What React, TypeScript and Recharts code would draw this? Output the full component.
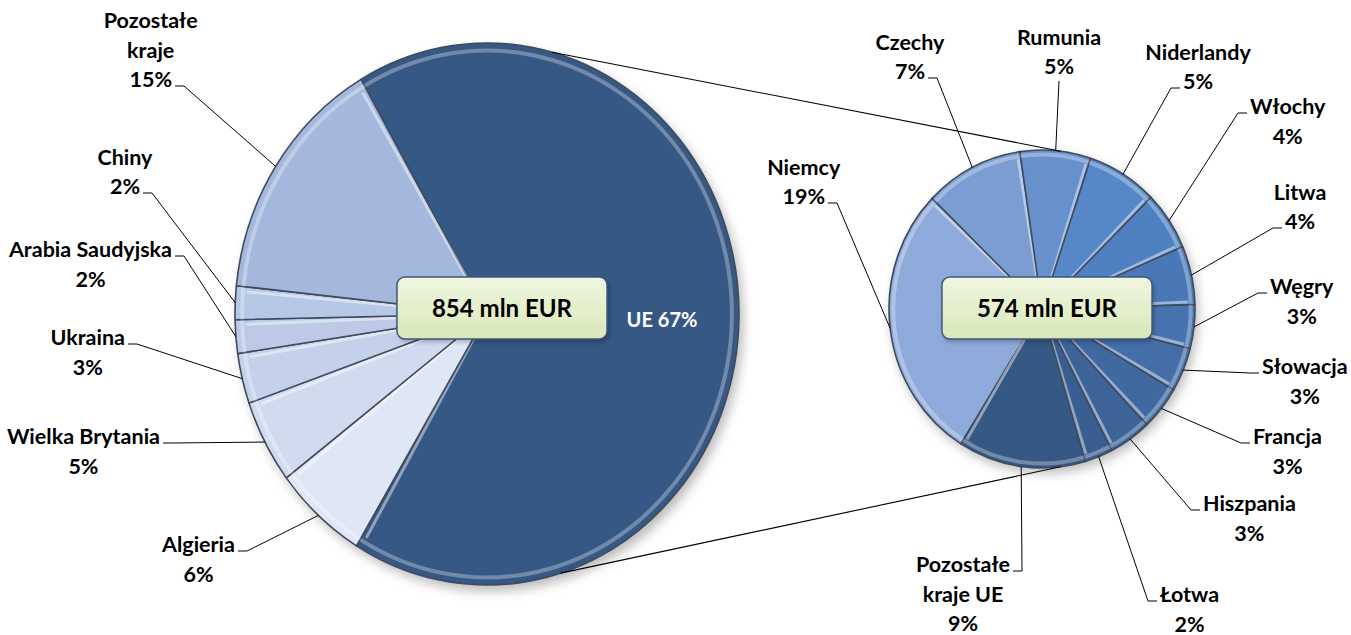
import React from "react";
import { PieChart, Pie, Cell } from "recharts";

// udział w eksporcie (% całości, 854 mln EUR)
const WORLD_NAMES = ["UE", "Algieria", "Wielka Brytania", "Ukraina", "Arabia Saudyjska", "Chiny", "Pozostałe kraje"];
const WORLD_SHARES = [67, 6, 5, 3, 2, 2, 15];
const WORLD_COLORS = ["#365884", "#dfe6f5", "#d0dbf0", "#c4d1eb", "#bccae7", "#b7c7e6", "#a4b8dd"];

// rozbicie UE (574 mln EUR), te same procenty całości
const EU_NAMES = [
  "Niemcy", "Czechy", "Rumunia", "Niderlandy", "Włochy", "Litwa",
  "Węgry", "Słowacja", "Francja", "Hiszpania", "Łotwa", "Pozostałe kraje UE",
];
const EU_SHARES = [19, 7, 5, 5, 4, 4, 3, 3, 3, 3, 2, 9];
const EU_COLORS = [
  "#8eaadb", "#7b9dd2", "#6790cc", "#5687c8", "#4f80c1", "#4a78b7",
  "#4773b0", "#446ea8", "#4069a1", "#3d6499", "#3a5e91", "#365884",
];

const TOTAL_LABELS = ["854 mln EUR", "574 mln EUR"];

const worldData = WORLD_NAMES.map((name, i) => ({ name, share: WORLD_SHARES[i] }));
const euData = EU_NAMES.map((name, i) => ({ name, share: EU_SHARES[i] }));

const W = 1351;
const H = 635;
const FONT = "Lato, 'Open Sans', sans-serif";
const LABEL_SIZE = 21.5;
const LINE_H = 29.5;
const RAD = Math.PI / 180;

// pies are slightly taller than wide in the original
const LEFT = { cx: 487, cy: 314, rx: 252, ry: 271, start: 120, box: { dx: 15, dy: -6 } };
const RIGHT = { cx: 1042, cy: 309, rx: 153, ry: 159, start: 238, box: { dx: 5, dy: -1 } };

type Spot = { dx: number; dy: number; side: "in" | "left" | "right" | "top"; tick: number };

// where each label sits, relative to the pie centre (tick = line that carries the leader)
const WORLD_SPOTS: Spot[] = [
  { dx: 175, dy: 6, side: "in", tick: 0 },
  { dx: -252, dy: 231, side: "left", tick: 0 },
  { dx: -327, dy: 123, side: "left", tick: 0 },
  { dx: -362, dy: 24, side: "left", tick: 0 },
  { dx: -315, dy: -64, side: "left", tick: 0 },
  { dx: -347, dy: -127, side: "left", tick: 1 },
  { dx: -315, dy: -234, side: "left", tick: 2 },
];

const EU_SPOTS: Spot[] = [
  { dx: -217, dy: -112, side: "left", tick: 1 },
  { dx: -117, dy: -237, side: "left", tick: 1 },
  { dx: 17, dy: -242, side: "top", tick: 1 },
  { dx: 141, dy: -227, side: "right", tick: 1 },
  { dx: 208, dy: -202, side: "right", tick: 0 },
  { dx: 243, dy: -87, side: "right", tick: 1 },
  { dx: 228, dy: -22, side: "right", tick: 0 },
  { dx: 220, dy: 58, side: "right", tick: 0 },
  { dx: 211, dy: 128, side: "right", tick: 0 },
  { dx: 161, dy: 195, side: "right", tick: 0 },
  { dx: 118, dy: 286, side: "right", tick: 0 },
  { dx: -32, dy: 256, side: "left", tick: 0 },
];

let measureCtx: CanvasRenderingContext2D | null = null;
function textWidth(s: string, size: number) {
  if (!measureCtx) measureCtx = document.createElement("canvas").getContext("2d");
  if (!measureCtx) return s.length * size * 0.5;
  measureCtx.font = `bold ${size}px Lato`;
  return measureCtx.measureText(s).width;
}

function splitName(name: string) {
  if (name.startsWith("Pozostałe ")) return ["Pozostałe", name.slice(10)];
  return [name];
}

function ovalPoint(cx: number, cy: number, rx: number, ry: number, angle: number) {
  return [cx + rx * Math.cos(angle * RAD), cy - ry * Math.sin(angle * RAD)];
}

function ovalSector(squash: number) {
  return (props: any) => {
    const { cx, cy, outerRadius, startAngle, endAngle, fill } = props;
    const rx = outerRadius;
    const ry = outerRadius * squash;
    const d = endAngle - startAngle;
    const large = Math.abs(d) > 180 ? 1 : 0;
    const sweep = d < 0 ? 1 : 0;
    const [x0, y0] = ovalPoint(cx, cy, rx, ry, startAngle);
    const [x1, y1] = ovalPoint(cx, cy, rx, ry, endAngle);
    const k = 0.972;
    const [h0x, h0y] = ovalPoint(cx, cy, rx * k, ry * k, startAngle);
    const [h1x, h1y] = ovalPoint(cx, cy, rx * k, ry * k, endAngle);
    // bevel highlight just inside the closing edge
    const inside = d < 0 ? 1.1 : -1.1;
    const [bx, by] = ovalPoint(cx, cy, rx * 0.955, ry * 0.955, endAngle + inside);
    return (
      <g>
        <path
          d={`M${cx},${cy} L${x0},${y0} A${rx},${ry} 0 ${large} ${sweep} ${x1},${y1} Z`}
          fill={fill}
          stroke="#3f4b5c"
          strokeWidth={1.6}
          strokeLinejoin="round"
        />
        <path
          d={`M${h0x},${h0y} A${rx * k},${ry * k} 0 ${large} ${sweep} ${h1x},${h1y}`}
          fill="none"
          stroke="#ffffff"
          strokeOpacity={0.3}
          strokeWidth={4}
        />
        <line x1={cx} y1={cy} x2={bx} y2={by} stroke="#ffffff" strokeOpacity={0.45} strokeWidth={3} />
      </g>
    );
  };
}

function pieLabel(names: string[], shares: number[], spots: Spot[], squash: number) {
  return (props: any) => {
    const { cx, cy, midAngle, outerRadius, index } = props;
    const spot = spots[index];
    const pct = `${shares[index]}%`;
    const [ex, ey] = ovalPoint(cx, cy, outerRadius, outerRadius * squash, midAngle);
    const ax = cx + spot.dx;
    const ay = cy + spot.dy;

    if (spot.side === "in") {
      return (
        <text x={ax} y={ay + 7} textAnchor="middle" fill="#ffffff" fontFamily={FONT} fontWeight="bold" fontSize={20}>
          {`${names[index]} ${pct}`}
        </text>
      );
    }

    const lines = [...splitName(names[index]), pct];
    let center = ax;
    let path = `M${ax},${ay + 14} L${ex},${ey}`;
    if (spot.side !== "top") {
      const w = textWidth(lines[spot.tick], LABEL_SIZE);
      const dir = spot.side === "left" ? 1 : -1;
      center = ax - (dir * w) / 2;
      path = `M${ax + dir * 3},${ay + 6} L${ax + dir * 12},${ay + 6} L${ex},${ey}`;
    }

    return (
      <g>
        <path d={path} stroke="#000000" strokeWidth={1} fill="none" />
        <text textAnchor="middle" fill="#000000" fontFamily={FONT} fontWeight="bold" fontSize={LABEL_SIZE}>
          {lines.map((l, i) => (
            <tspan key={i} x={center} y={ay + 7 + (i - spot.tick) * LINE_H}>
              {l}
            </tspan>
          ))}
        </text>
      </g>
    );
  };
}

function TotalBox({ x, y, label }: { x: number; y: number; label: string }) {
  const w = textWidth(label, 24) + 70;
  const h = 62;
  return (
    <g>
      <rect x={x - w / 2 + 2} y={y - h / 2 + 3} width={w} height={h} rx={8} fill="#000" opacity={0.25} filter="url(#soft)" />
      <rect x={x - w / 2} y={y - h / 2} width={w} height={h} rx={8} fill="url(#boxFill)" stroke="#3d5878" strokeWidth={1.5} />
      <text x={x} y={y + 9} textAnchor="middle" fontFamily={FONT} fontWeight="bold" fontSize={24} fill="#000">
        {label}
      </text>
    </g>
  );
}

export default function App() {
  const lt = ovalPoint(LEFT.cx, LEFT.cy, LEFT.rx, LEFT.ry, 75);
  const lb = ovalPoint(LEFT.cx, LEFT.cy, LEFT.rx, LEFT.ry, -73);
  const rt = ovalPoint(RIGHT.cx, RIGHT.cy, RIGHT.rx, RIGHT.ry, 83);
  const rb = ovalPoint(RIGHT.cx, RIGHT.cy, RIGHT.rx, RIGHT.ry, -83);

  return (
    <div style={{ position: "absolute", left: 0, top: 0, width: W, height: H, background: "#ffffff" }}>
      {/* soft shadow under the pies */}
      <svg width={W} height={H} style={{ position: "absolute", left: 0, top: 0 }}>
        <defs>
          <filter id="pieShadow" x="-20%" y="-20%" width="140%" height="140%">
            <feGaussianBlur stdDeviation="6" />
          </filter>
        </defs>
        <ellipse cx={LEFT.cx + 4} cy={LEFT.cy + 6} rx={LEFT.rx} ry={LEFT.ry} fill="#000" opacity={0.28} filter="url(#pieShadow)" />
        <ellipse cx={RIGHT.cx + 3} cy={RIGHT.cy + 5} rx={RIGHT.rx} ry={RIGHT.ry} fill="#000" opacity={0.28} filter="url(#pieShadow)" />
      </svg>

      <div style={{ position: "absolute", left: 0, top: 0 }}>
        <PieChart width={W} height={H} margin={{ top: 0, right: 0, bottom: 0, left: 0 }}>
          <Pie
            data={worldData}
            dataKey="share"
            nameKey="name"
            cx={LEFT.cx}
            cy={LEFT.cy}
            outerRadius={LEFT.rx}
            startAngle={LEFT.start}
            endAngle={LEFT.start - 360}
            shape={ovalSector(LEFT.ry / LEFT.rx)}
            label={pieLabel(WORLD_NAMES, WORLD_SHARES, WORLD_SPOTS, LEFT.ry / LEFT.rx)}
            labelLine={false}
            isAnimationActive={false}
          >
            {worldData.map((d, i) => (
              <Cell key={d.name} fill={WORLD_COLORS[i]} />
            ))}
          </Pie>
          <Pie
            data={euData}
            dataKey="share"
            nameKey="name"
            cx={RIGHT.cx}
            cy={RIGHT.cy}
            outerRadius={RIGHT.rx}
            startAngle={RIGHT.start}
            endAngle={RIGHT.start - 360}
            shape={ovalSector(RIGHT.ry / RIGHT.rx)}
            label={pieLabel(EU_NAMES, EU_SHARES, EU_SPOTS, RIGHT.ry / RIGHT.rx)}
            labelLine={false}
            isAnimationActive={false}
          >
            {euData.map((d, i) => (
              <Cell key={d.name} fill={EU_COLORS[i]} />
            ))}
          </Pie>
        </PieChart>
      </div>

      {/* connector lines and total boxes */}
      <svg width={W} height={H} style={{ position: "absolute", left: 0, top: 0, pointerEvents: "none" }}>
        <defs>
          <linearGradient id="boxFill" x1="0" y1="0" x2="0" y2="1">
            <stop offset="0" stopColor="#f0f6e0" />
            <stop offset="1" stopColor="#d9e8ba" />
          </linearGradient>
          <filter id="soft" x="-20%" y="-20%" width="140%" height="140%">
            <feGaussianBlur stdDeviation="2" />
          </filter>
        </defs>
        <line x1={lt[0]} y1={lt[1]} x2={rt[0]} y2={rt[1]} stroke="#000" strokeWidth={1.1} />
        <line x1={lb[0]} y1={lb[1]} x2={rb[0]} y2={rb[1]} stroke="#000" strokeWidth={1.1} />
        <TotalBox x={LEFT.cx + LEFT.box.dx} y={LEFT.cy + LEFT.box.dy} label={TOTAL_LABELS[0]} />
        <TotalBox x={RIGHT.cx + RIGHT.box.dx} y={RIGHT.cy + RIGHT.box.dy} label={TOTAL_LABELS[1]} />
      </svg>
    </div>
  );
}
